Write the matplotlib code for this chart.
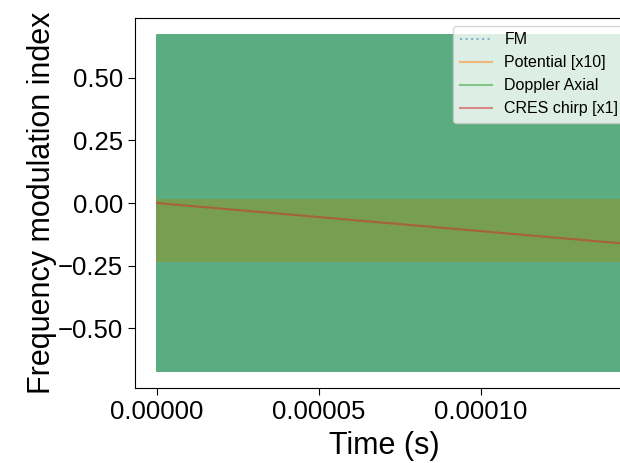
import numpy as np
import matplotlib
matplotlib.use("Agg")
import matplotlib.pyplot as plt

plt.rcParams['font.family'] = ['Liberation Sans', 'DejaVu Sans']

# envelope extremes (signals oscillate too fast to resolve)
fm_range = [-0.67, 0.67]
potential_range = [-0.23, 0.01]
doppler_range = [-0.67, 0.67]
chirp_t = [0.0, 1.47e-4]
chirp_val = [0.0, -0.165]
t_end = 1.47e-4
n_osc = 4000

labels = ['FM', 'Potential [x10]', 'Doppler Axial', 'CRES chirp [x1]']

t = np.linspace(0, t_end, n_osc)
fm = np.resize(fm_range, n_osc)
pot = np.resize(potential_range, n_osc)
dop = np.resize(doppler_range[::-1], n_osc)

fig = plt.figure(figsize=(6.2, 4.63), dpi=100)
ax = fig.add_axes([0.2177, 0.162, 0.803, 0.799])

ax.plot(t, fm, ':', color='tab:blue', alpha=0.5, lw=1.5, label=labels[0])
ax.plot(t, pot, '-', color='tab:orange', alpha=0.5, lw=1.5, label=labels[1])
ax.plot(t, dop, '-', color='tab:green', alpha=0.5, lw=1.5, label=labels[2])
ax.plot(chirp_t, chirp_val, '-', color='tab:red', alpha=0.5, lw=1.5, label=labels[3])

ax.set_xlim(-6.79e-6, 1.469e-4)
ax.set_ylim(-0.738, 0.738)
ax.set_xticks([0, 0.00005, 0.0001])
ax.set_xticklabels(['0.00000', '0.00005', '0.00010'])
ax.set_yticks([-0.5, -0.25, 0, 0.25, 0.5])
ax.set_yticklabels(['\u22120.50', '\u22120.25', '0.00', '0.25', '0.50'])
ax.tick_params(labelsize=18.5, direction='out', length=5)
ax.set_xlabel('Time (s)', fontsize=22, labelpad=5)
ax.set_ylabel('Frequency modulation index', fontsize=22, labelpad=1)
ax.legend(loc='upper right', fontsize=11.5)

fig.savefig('out.png', dpi=100)
